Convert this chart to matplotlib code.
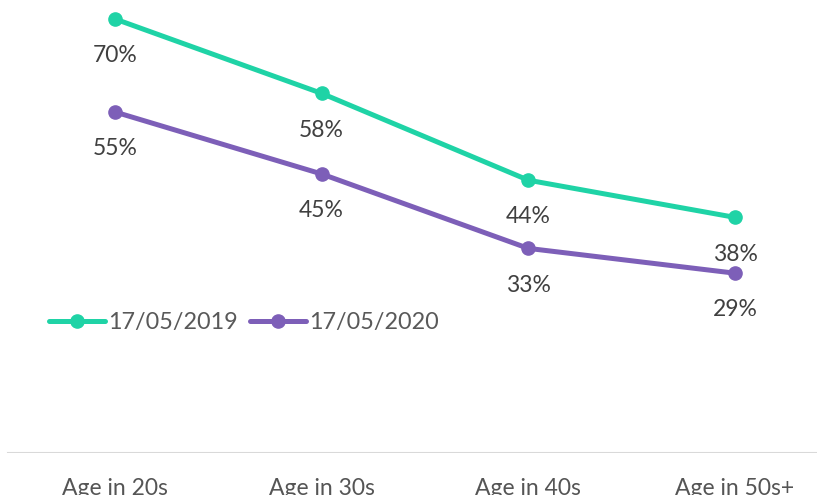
import matplotlib.pyplot as plt

categories = ["Age in 20s", "Age in 30s", "Age in 40s", "Age in 50s+"]
series_names = ["17/05/2019", "17/05/2020"]
values_2019 = [70, 58, 44, 38]
values_2020 = [55, 45, 33, 29]

colors = ["#1fd3a6", "#7d5fb8"]

plt.rcParams["font.family"] = ["Lato", "DejaVu Sans"]

fig = plt.figure(figsize=(8.17, 4.95), dpi=100)
ax = fig.add_axes([0, 42 / 495, 1, 453 / 495])

xs = list(range(len(categories)))
for vals, name, c in zip([values_2019, values_2020], series_names, colors):
    ax.plot(xs, vals, color=c, lw=3.6, marker="o", ms=9.5, label=name,
            solid_capstyle="round")
    for x, v in zip(xs, vals):
        # about 35 px under the point
        ax.annotate(f"{v}%", (x, v), xytext=(0, -26.5), textcoords="offset points",
                    ha="center", va="center", fontsize=16.5, color="#404040")

ax.set_xlim(-0.5565, 3.397)
ax.set_ylim(0, 73.06)
ax.axhline(0, xmin=8 / 817, color="#d9d9d9", lw=1.5)
for s in ax.spines.values():
    s.set_visible(False)
ax.set_yticks([])
ax.set_xticks(xs)
ax.set_xticklabels(categories, fontsize=16.5, color="#555555")
ax.tick_params(axis="x", length=0, pad=18)

leg = ax.legend(loc="center left", bbox_to_anchor=(49 / 817, (453 - 323) / 453),
                ncol=2, frameon=False, fontsize=16.8, handlelength=2.4,
                handletextpad=0.12, columnspacing=0.55, borderaxespad=0,
                borderpad=0)
for t in leg.get_texts():
    t.set_color("#595959")

fig.savefig("out.png", dpi=100)
